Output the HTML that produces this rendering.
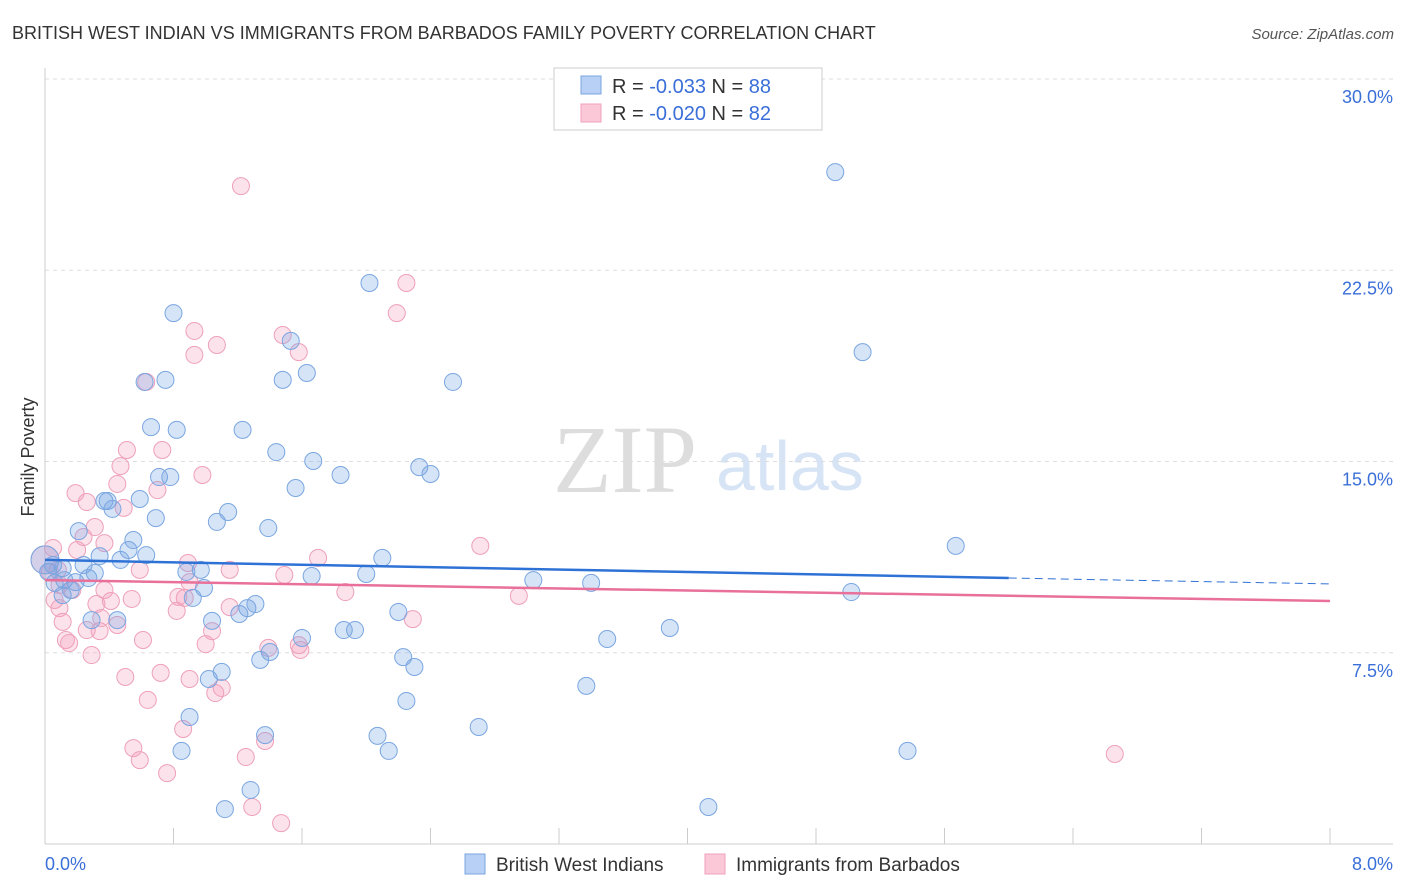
<!DOCTYPE html>
<html><head><meta charset="utf-8"><style>
body{margin:0;background:#fff;font-family:"Liberation Sans",sans-serif}
svg{display:block}
</style></head><body>
<svg id="chart" width="1406" height="892" xmlns="http://www.w3.org/2000/svg" font-family="Liberation Sans, sans-serif">
<text x="12" y="39" font-size="18" fill="#333">BRITISH WEST INDIAN VS IMMIGRANTS FROM BARBADOS FAMILY POVERTY CORRELATION CHART</text>
<text x="1394" y="39" font-size="15" fill="#555" font-style="italic" text-anchor="end">Source: ZipAtlas.com</text>
<text x="553" y="492" font-size="96" fill="#ddd" font-family="Liberation Serif, serif">ZIP</text>
<text x="716" y="490" font-size="70" fill="#d6e4f5">atlas</text>
<text transform="translate(34,457) rotate(-90)" font-size="18" fill="#333" text-anchor="middle">Family Poverty</text>
<g id="grid"></g>
<g id="pts-pink"></g>
<g id="pts-blue"></g>
<g id="trends"></g>
<g>
<rect x="554" y="68" width="268" height="62" fill="#fff" stroke="#ccc"/>
<rect x="581" y="76" width="20" height="18" fill="#b8d0f5" stroke="#7aa6e0"/>
<text x="612" y="93" font-size="20" fill="#333">R = <tspan fill="#3a6fd8">-0.033</tspan>   N = <tspan fill="#3a6fd8">88</tspan></text>
<rect x="581" y="104" width="20" height="18" fill="#fbc8d8" stroke="#f0a0bb"/>
<text x="612" y="120" font-size="20" fill="#333">R = <tspan fill="#3a6fd8">-0.020</tspan>   N = <tspan fill="#3a6fd8">82</tspan></text>
</g>
<g>
<rect x="465" y="854" width="20" height="20" fill="#b8d0f5" stroke="#7aa6e0"/>
<text x="496" y="871" font-size="19" fill="#333">British West Indians</text>
<rect x="705" y="854" width="20" height="20" fill="#fbc8d8" stroke="#f0a0bb"/>
<text x="736" y="871" font-size="19" fill="#333">Immigrants from Barbados</text>
</g>
</svg>
<script>
const yTicks=[7.5,15,22.5,30];
const yTickLabels=["7.5%","15.0%","22.5%","30.0%"];
const xTickCount=10;
const xLabels=["0.0%","8.0%"];
const blueX=[4.92,2.02,0.80,5.09,1.53,1.63,1.48,2.54,0.62,0.75,0.66,0.82,1.23,1.44,1.67,2.33,2.40,1.84,0.71,0.78,1.56,0.37,0.39,0.59,0.42,1.14,0.69,1.07,0.21,1.39,5.67,0.55,2.10,0.34,0.52,0.63,0.47,0.05,0.11,0.02,0.24,0.31,2.0,1.66,3.04,3.40,0.12,0.19,0.27,0.06,0.97,0.88,0.99,5.02,0.16,0.11,0.92,1.31,1.26,1.21,2.20,0.29,0.45,1.04,1.86,1.93,1.60,3.50,3.89,1.40,1.34,2.23,2.30,1.10,1.02,3.37,2.25,0.90,2.70,1.37,2.07,0.85,2.14,5.37,1.28,1.12,4.13,0];
const blueY=[26.35,22.0,20.82,19.29,19.73,18.47,18.2,18.12,18.12,18.2,16.35,16.24,16.24,15.37,15.02,14.78,14.51,14.47,14.39,14.39,13.96,13.45,13.45,13.53,13.14,13.02,12.78,12.63,12.27,12.39,11.69,11.92,11.22,11.29,11.53,11.33,11.14,10.94,10.82,10.67,10.94,10.63,10.59,10.51,10.35,10.24,10.35,10.27,10.43,10.24,10.75,10.67,10.04,9.88,9.96,9.76,9.65,9.41,9.25,9.02,9.10,8.78,8.78,8.75,8.39,8.39,8.08,8.04,8.47,7.53,7.22,7.33,6.94,6.75,6.47,6.20,5.61,4.98,4.59,4.27,4.24,3.65,3.65,3.65,2.12,1.37,1.45,11.14];
const pinkX=[1.22,2.25,2.19,0.93,1.48,1.07,1.58,0.93,0.63,0.51,0.73,0.47,0.98,0.19,0.70,0.26,0.45,0.49,0.31,0.24,0.05,0.20,0.37,1.70,2.71,0.89,1.15,0.59,1.49,0.90,0,0.03,0.08,0.37,1.87,2.95,0.54,0.87,0.41,0.32,1.15,0.82,0.09,0.17,0.35,2.29,0.11,0.45,0.26,1.04,0.34,0.61,0.13,0.15,1.0,1.58,1.39,0.29,1.59,0.72,0.50,0.90,1.10,1.06,0.64,0.86,0.55,1.37,0.59,1.25,6.66,0.76,1.29,1.47,0.06,0.09,0.83];
const pinkY=[25.8,22.0,20.82,20.12,19.96,19.57,19.29,19.18,18.12,15.45,15.45,14.82,14.47,13.76,13.88,13.41,14.12,13.18,12.43,12.04,11.61,11.53,11.8,11.22,11.69,11.02,10.75,10.75,10.55,10.27,11.14,10.67,10.75,9.96,9.88,9.73,9.61,9.65,9.53,9.41,9.29,9.14,9.25,9.96,8.86,8.82,8.71,8.59,8.39,8.35,8.35,8.0,8.0,7.88,7.84,7.8,7.69,7.41,7.61,6.71,6.55,6.47,6.12,5.92,5.65,4.51,3.76,4.04,3.29,3.41,3.53,2.78,1.45,0.82,9.57,10.16,9.69];
const blueTrend=[11.14,10.43,10.20]; // at x=0, 6.0, 8.0
const blueTrendX=[0,6.0,8.0];
const pinkTrend=[10.35,9.53];
const pinkTrendX=[0,8.0];
const NS="http://www.w3.org/2000/svg";
const X0=45,X1=1330,Y0=844,Y30=79;
const sx=v=>X0+v/8*(X1-X0);
const sy=v=>Y0-v/30*(Y0-Y30);
function mk(tag,attrs,parent){const e=document.createElementNS(NS,tag);for(const k in attrs)e.setAttribute(k,attrs[k]);parent.appendChild(e);return e;}
const grid=document.getElementById('grid');
yTicks.forEach((t,i)=>{
 const l=mk('line',{x1:X0,x2:1393,y1:sy(t),y2:sy(t),stroke:'#ddd','stroke-dasharray':'4,4'},grid);
 
 
 const tx=mk('text',{x:1393,y:sy(t)+24,'font-size':18,fill:'#3a6fd8','text-anchor':'end'},grid);
 tx.textContent=yTickLabels[i];
 
 
});
const ax=mk('line',{x1:X0,x2:1393,y1:Y0,y2:Y0,stroke:'#ccc'},grid);


const ay=mk('line',{x1:X0,x2:X0,y1:68,y2:Y0,stroke:'#ccc'},grid);


for(let i=1;i<=xTickCount;i++){
 const v=i*8/xTickCount;
 const t=mk('line',{x1:sx(v),x2:sx(v),y1:Y0,y2:Y0-16,stroke:'#ccc'},grid);
 
 
}
const xl0=mk('text',{x:45,y:870,'font-size':18,fill:'#3a6fd8'},grid);xl0.textContent=xLabels[0];


const xl1=mk('text',{x:1393,y:870,'font-size':18,fill:'#3a6fd8','text-anchor':'end'},grid);xl1.textContent=xLabels[1];


function pts(xs,ys,g,fill,stroke,name){
 xs.forEach((x,i)=>{
  const r=(x===0)?14:8.5;
  const c=mk('circle',{cx:sx(x),cy:sy(ys[i]),r:r,fill:fill,stroke:stroke,'stroke-width':1},g);
  
  
 });
}
pts(pinkX,pinkY,document.getElementById('pts-pink'),'rgba(245,160,190,0.3)','#eea0ba','point-barbados');
pts(blueX,blueY,document.getElementById('pts-blue'),'rgba(120,165,230,0.3)','#7aa6e0','point-british-west-indian');
const tr=document.getElementById('trends');
const b1=mk('line',{x1:sx(blueTrendX[0]),y1:sy(blueTrend[0]),x2:sx(blueTrendX[1]),y2:sy(blueTrend[1]),stroke:'#2f72d6','stroke-width':2.5},tr);


const b2=mk('line',{x1:sx(blueTrendX[1]),y1:sy(blueTrend[1]),x2:sx(blueTrendX[2]),y2:sy(blueTrend[2]),stroke:'#2f72d6','stroke-width':1,'stroke-dasharray':'8,5'},tr);


const p1=mk('line',{x1:sx(pinkTrendX[0]),y1:sy(pinkTrend[0]),x2:sx(pinkTrendX[1]),y2:sy(pinkTrend[1]),stroke:'#e8709a','stroke-width':2.5},tr);


</script>
</body></html>
